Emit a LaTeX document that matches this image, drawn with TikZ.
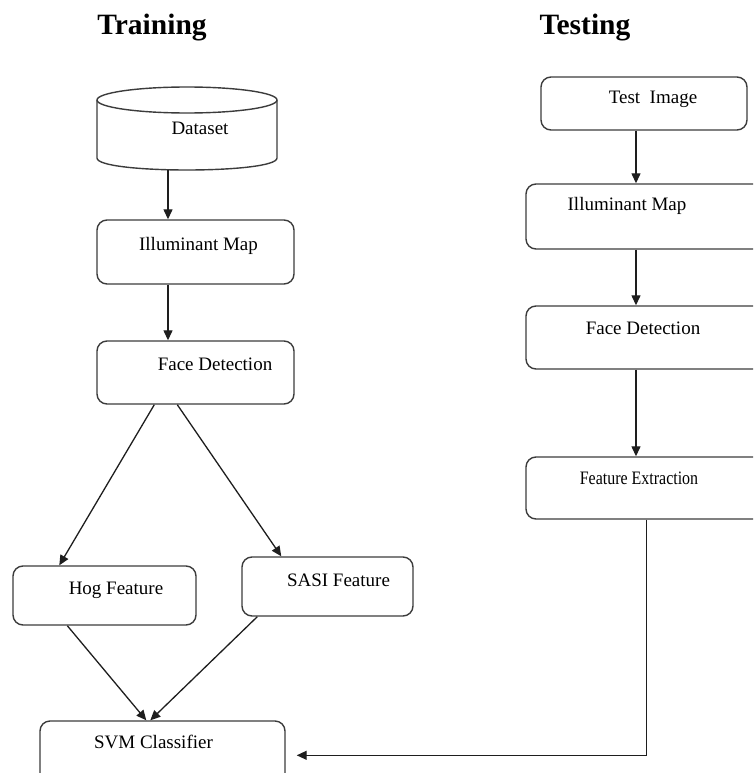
\documentclass[tikz,border=0pt]{standalone}
\usepackage{fontspec}
\setmainfont{Liberation Serif}
\usetikzlibrary{arrows.meta,calc}
\definecolor{boxgray}{HTML}{3C3C3C}
\definecolor{linegray}{HTML}{1E1E1E}
\begin{document}
\begin{tikzpicture}[x=1pt,y=-1pt,
  box/.style={draw=boxgray, line width=1.4pt, rounded corners=10pt, inner sep=0pt},
  arr/.style={draw=linegray, line width=1.3pt, -{Triangle[length=10pt,width=9pt]}},
  lbl/.style={font=\fontsize{19}{22}\selectfont, anchor=base, inner sep=0pt, text=black},
  ttl/.style={font=\fontsize{29.5}{33}\selectfont\bfseries, anchor=base, inner sep=0pt}]
\useasboundingbox (0,0) rectangle (753,773);
\clip (0,0) rectangle (753,773);

% titles
\node[ttl] (ttrain) at (152,35) {Training};
\node[ttl] (ttest) at (585,35) {Testing};

% dataset cylinder
\draw[boxgray, line width=1.4pt] (97,100) -- (97,158) .. controls (97,174) and (277,174) .. (277,158) -- (277,100);
\draw[boxgray, line width=1.4pt, fill=white] (187,100) ellipse [x radius=90, y radius=13];
\node[lbl] (ds) at (200,135) {Dataset};
\coordinate (dsb) at (168,170);

% training boxes
\node[box, minimum width=197pt, minimum height=64pt] (illT) at (195.5,252) {};
\node[box, minimum width=197pt, minimum height=63pt] (faceT) at (195.5,372.5) {};
\node[box, minimum width=183pt, minimum height=59pt] (hog) at (104.5,595.5) {};
\node[box, minimum width=171pt, minimum height=59pt] (sasi) at (327.5,586.5) {};
\node[box, minimum width=245pt, minimum height=78pt] (svm) at (162.5,760) {};

\node[lbl] (illTl) at (198.5,250) {Illuminant Map};
\node[lbl] (faceTl) at (215,370) {Face Detection};
\node[lbl] (hogl) at (116,594) {Hog Feature};
\node[lbl] (sasil) at (338.5,586) {SASI Feature};
\node[lbl] (svml) at (153.5,748) {SVM Classifier};

% testing boxes
\node[box, minimum width=206pt, minimum height=53pt] (test) at (644,103.5) {};
\node[box, minimum width=254pt, minimum height=65pt] (illR) at (653,216.5) {};
\node[box, minimum width=254pt, minimum height=63pt] (faceR) at (653,337.5) {};
\node[box, minimum width=254pt, minimum height=62pt] (featR) at (653,488) {};

\node[lbl] (testl) at (653,104) {Test\ \ Image};
\node[lbl] (illRl) at (627,210) {Illuminant Map};
\node[lbl] (faceRl) at (643,334) {Face Detection};
\node[lbl] (featRl) at (639,484) {\scalebox{0.84}[1]{Feature Extraction}};

% training connectors
\draw[arr] (dsb) -- (illT.north -| dsb);
\draw[arr] (illT.south -| dsb) -- (faceT.north -| dsb);
\draw[arr] ($(faceT.south west)+(58,0)$) -- ($(hog.north west)+(47,0)$);
\draw[arr] ($(faceT.south west)+(81,0)$) -- ($(sasi.north west)+(40,0)$);
\draw[arr] ($(hog.south west)+(55,0)$) -- ($(svm.north west)+(107,0)$);
\draw[arr] ($(sasi.south west)+(16,0)$) -- ($(svm.north west)+(111,0)$);

% testing connectors
\coordinate (rx) at (636,0);
\draw[arr] (test.south -| rx) -- (illR.north -| rx);
\draw[arr] (illR.south -| rx) -- (faceR.north -| rx);
\draw[arr] (faceR.south -| rx) -- (featR.north -| rx);
\coordinate (svmin) at ($(svm.north east)+(11,35)$);
\draw[arr] ($(featR.south west)+(121,0)$) |- (svmin);
\end{tikzpicture}
\end{document}
